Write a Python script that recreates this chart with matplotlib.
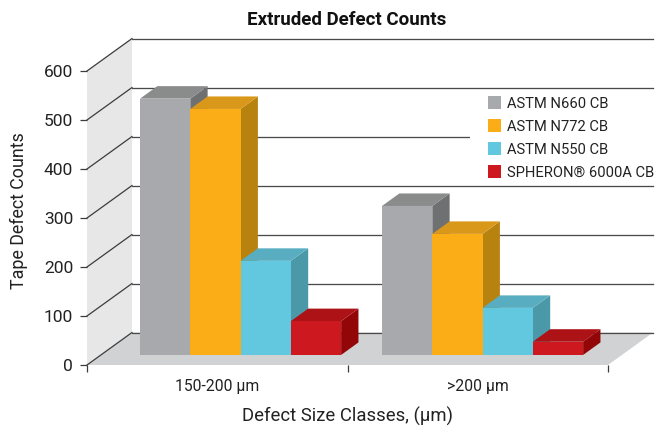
import matplotlib
matplotlib.use('Agg')
import matplotlib.pyplot as plt
from matplotlib.patches import Polygon, Patch, Rectangle

plt.rcParams['font.family'] = ['Roboto', 'DejaVu Sans']

# Data
classes = ['150-200 µm', '>200 µm']
series = ['ASTM N660 CB', 'ASTM N772 CB', 'ASTM N550 CB', 'SPHERON® 6000A CB']
n660 = [523, 304]
n772 = [502, 247]
n550 = [192, 96]
spheron = [69, 27]
yticks = [0, 100, 200, 300, 400, 500, 600]

values = [n660, n772, n550, spheron]
front_cols = ['#a7a9ac', '#fbad18', '#62c8df', '#cc181e']
top_cols = ['#8a8c8b', '#d9981a', '#58aec0', '#ad1217']
side_cols = ['#6f7072', '#b8820f', '#4b98a8', '#920608']

# Oblique depth of the fake 3D box, in data units
DX = 45 / 260.5
DY = 66.3
BAR_W = 0.193
BAR_NEAR = 0.31   # depth where a bar's front sits
BAR_DEPTH = 0.385
GROUP_START = [0.15, 1.079]


def obl(x, v, d):
    return (x + d * DX, v + d * DY)


fig = plt.figure(figsize=(6.57, 4.26), dpi=100)
ax = fig.add_axes([87 / 657, 1 - 365 / 426, 521 / 657, 294 / 426])
ax.set_xlim(0, 2)
ax.set_ylim(0, 600)
ax.set_facecolor('none')
for s in ax.spines.values():
    s.set_visible(False)

# Wall and floor
ax.add_patch(Polygon([obl(0, 0, 0), obl(0, 600, 0), obl(0, 600, 1), obl(0, 0, 1)],
                     fc='#e6e7e6', ec='none', clip_on=False, zorder=1))
ax.add_patch(Polygon([obl(0, 0, 0), obl(0, 0, 1), obl(2, 0, 1), obl(2, 0, 0)],
                     fc='#d1d2d4', ec='none', clip_on=False, zorder=1))

# Gridlines: along the wall, then along the back
for v in yticks:
    a, b = obl(0, v, 0), obl(0, v, 1)
    c = obl(2, v, 1)
    ax.plot([a[0], b[0]], [a[1], b[1]], color='#3c3c3c', lw=0.9, clip_on=False, zorder=2)
    ax.plot([b[0], c[0]], [b[1] - 2, c[1] - 2], color='#d5d5d5', lw=0.9, clip_on=False, zorder=2)
    ax.plot([b[0], c[0]], [b[1], c[1]], color='#4a4a4a', lw=0.9, clip_on=False, zorder=2)

# White block behind the legend, it cuts the 400 gridline short
ax.add_patch(Rectangle((470 / 657, 1 - 180 / 426), 187 / 657, 88 / 426, fc='white', ec='none',
                       transform=fig.transFigure, clip_on=False, zorder=2.5))

# Bars
z = 3
for g, start in enumerate(GROUP_START):
    for i, vals in enumerate(values):
        x0 = start + i * BAR_W + BAR_NEAR * DX
        x1 = x0 + BAR_W
        base = BAR_NEAR * DY
        top = base + vals[g]
        dx = BAR_DEPTH * DX
        dy = BAR_DEPTH * DY
        ax.add_patch(Polygon([(x1, base), (x1, top), (x1 + dx, top + dy), (x1 + dx, base + dy)],
                             fc=side_cols[i], ec='none', clip_on=False, zorder=z))
        ax.add_patch(Polygon([(x0, top), (x1, top), (x1 + dx, top + dy), (x0 + dx, top + dy)],
                             fc=top_cols[i], ec='none', clip_on=False, zorder=z))
        ax.bar(x0, vals[g], width=BAR_W, bottom=base, align='edge', color=front_cols[i],
               clip_on=False, zorder=z + 0.5)
        z += 1

# Axes ticks and labels
ax.set_yticks(yticks)
ax.tick_params(axis='y', length=5, width=0.9, color='#3c3c3c', labelsize=12.5,
               labelcolor='#222222', pad=5)
ax.set_xticks([0, 1, 2])
ax.set_xticks([0.5, 1.5], classes, minor=True)
ax.tick_params(axis='x', which='major', length=5, width=0.9, color='#3c3c3c', labelbottom=False)
ax.tick_params(axis='x', which='minor', length=0, labelsize=11.3, labelcolor='#222222', pad=10)

fig.text(347 / 657, 1 - 20 / 426, 'Extruded Defect Counts', ha='center', va='center',
         fontsize=13.5, fontweight='bold', color='#111111')
fig.text(19 / 657, 1 - 211 / 426, 'Tape Defect Counts', rotation=90, ha='center', va='center',
         fontsize=12.9, color='#222222')
fig.text(347 / 657, 1 - 416 / 426, 'Defect Size Classes, (µm)', ha='center', va='center',
         fontsize=13.3, color='#222222')

# Legend
handles = [Patch(fc=c, ec='none', label=s) for c, s in zip(front_cols, series)]
leg = ax.legend(handles=handles, loc='center left', bbox_to_anchor=(488 / 657, 1 - 138 / 426),
                bbox_transform=fig.transFigure, frameon=False, fontsize=10.6, labelspacing=0.58,
                handlelength=0.89, handleheight=0.96, handletextpad=0.4,
                borderpad=0, borderaxespad=0, labelcolor='#222222')
leg.set_zorder(2.6)

fig.savefig('out.png', dpi=100)
